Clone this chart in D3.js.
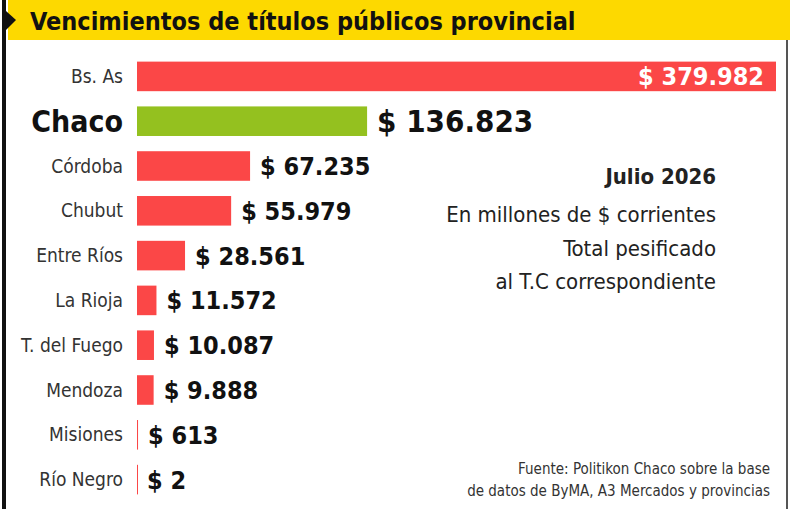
<!DOCTYPE html>
<html><head><meta charset="utf-8">
<script src="https://cdn.jsdelivr.net/npm/d3@7"></script>
<style>body{margin:0;background:#fff}svg{display:block}</style>
</head><body><svg id="c" width="790" height="509"></svg>
<script>
const categories=["Bs. As","Chaco","Córdoba","Chubut","Entre Ríos","La Rioja","T. del Fuego","Mendoza","Misiones","Río Negro"];
const values=[379982,136823,67235,55979,28561,11572,10087,9888,613,2];
const valueLabels=["$ 379.982","$ 136.823","$ 67.235","$ 55.979","$ 28.561","$ 11.572","$ 10.087","$ 9.888","$ 613","$ 2"];
const F="'DejaVu Sans Condensed','Liberation Sans Narrow','DejaVu Sans',sans-serif";
const svg=d3.select("#c");
svg.append("rect").attr("x",8).attr("y",0).attr("width",782).attr("height",40).attr("fill","#fdd900");
svg.append("rect").attr("x",2).attr("y",0).attr("width",4).attr("height",509).attr("fill","#111");
svg.append("path").attr("d","M6,11 L16,20 L6,30 Z").attr("fill","#111");
svg.append("rect").attr("x",786).attr("y",40).attr("width",2).attr("height",469).attr("fill","#555");
svg.append("text").attr("x",30).attr("y",30).attr("font-family",F).attr("font-weight","bold").attr("font-size",25).attr("fill","#111").text("Vencimientos de títulos públicos provincial");
const x=d3.scaleLinear().domain([0,379982]).range([137,776]);
const y=d3.scaleBand().domain(categories).range([54,502]).paddingInner(0.34).paddingOuter(0.17);
const g=svg.append("g");
categories.forEach((c,i)=>{
  const yc=y(c)+y.bandwidth()/2;
  g.append("rect").attr("x",x(0)).attr("y",y(c)).attr("width",Math.max(1,x(values[i])-x(0))).attr("height",y.bandwidth()).attr("fill",i==1?"#94c11f":"#fb4747");
  const isC=i==1;
  g.append("text").attr("x",123).attr("y",yc).attr("dy","0.35em").attr("text-anchor","end").attr("font-family",F).attr("font-size",isC?30:19).attr("font-weight",isC?"bold":"normal").attr("fill",isC?"#111":"#333").text(c);
  if(i==0){
    g.append("text").attr("x",x(values[i])-12).attr("y",yc).attr("dy","0.36em").attr("text-anchor","end").attr("font-family",F).attr("font-weight","bold").attr("font-size",25).attr("fill","#fff").text(valueLabels[i]);
  } else {
    g.append("text").attr("x",x(values[i])+10).attr("y",yc).attr("dy","0.36em").attr("font-family",F).attr("font-weight","bold").attr("font-size",isC?31:25).attr("fill","#111").text(valueLabels[i]);
  }
});
const t=[["Julio 2026",184,"bold"],["En millones de $ corrientes",222,"normal"],["Total pesificado ",256,"normal"],["al T.C correspondiente",289,"normal"]];
t.forEach(d=>svg.append("text").attr("x",716).attr("y",d[1]).attr("text-anchor","end").attr("font-family",F).attr("font-size",22).attr("font-weight",d[2]).attr("fill","#222").text(d[0]));
[["Fuente: Politikon Chaco sobre la base",474],["de datos de ByMA, A3 Mercados y provincias",496]].forEach(d=>svg.append("text").attr("x",770).attr("y",d[1]).attr("text-anchor","end").attr("font-family",F).attr("font-size",15).attr("fill","#333").text(d[0]));
</script></body></html>
